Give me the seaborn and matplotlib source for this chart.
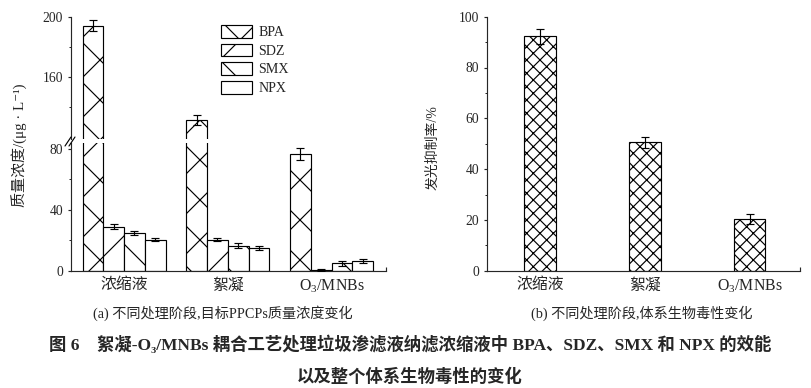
import numpy as np
import pandas as pd
import matplotlib
matplotlib.use('Agg')
import matplotlib.pyplot as plt
import seaborn as sns
from matplotlib.lines import Line2D

# stages of treatment (x categories)
stages = ['浓缩液', '絮凝', 'O$_3$/MNBs']
compounds = ['BPA', 'SDZ', 'SMX', 'NPX']

# mass concentration, ug/L
bpa = [194.0, 131.0, 76.7]
sdz = [29.0, 20.5, 0.3]
smx = [25.0, 16.3, 4.8]
npx = [20.5, 15.0, 6.5]
bpa_err = [3.5, 3.3, 3.8]
sdz_err = [1.5, 1.1, 0.7]
smx_err = [1.3, 1.6, 1.6]
npx_err = [0.9, 1.2, 1.4]

# luminescence inhibition, %
inhibition = [92.3, 50.6, 20.3]
inhibition_err = [3.0, 2.2, 2.0]

conc = {'BPA': bpa, 'SDZ': sdz, 'SMX': smx, 'NPX': npx}
errs = {'BPA': bpa_err, 'SDZ': sdz_err, 'SMX': smx_err, 'NPX': npx_err}
hatches = {'BPA': 'x', 'SDZ': '/', 'SMX': '\\', 'NPX': ''}

rows = [(s, c, conc[c][i]) for c in compounds for i, s in enumerate(stages)]
df = pd.DataFrame(rows, columns=['stage', 'compound', 'value'])

sns.set_style('ticks')
plt.rcParams['font.family'] = ['Liberation Serif', 'Noto Sans CJK SC', 'DejaVu Sans']
plt.rcParams['mathtext.fontset'] = 'custom'
plt.rcParams['mathtext.rm'] = 'Liberation Serif'
plt.rcParams['mathtext.it'] = 'Liberation Serif:italic'
plt.rcParams['mathtext.bf'] = 'Liberation Serif:bold'
plt.rcParams['hatch.linewidth'] = 0.7
plt.rcParams['axes.linewidth'] = 0.7

DPI = 120
W, H = 811, 388
fig = plt.figure(figsize=(W / DPI, H / DPI), dpi=DPI)


def fx(px):
    return px / W


def fy(py):
    return 1 - py / H


ax_hi = fig.add_axes([fx(71), fy(139), fx(386) - fx(71), fy(16.7) - fy(139)])
ax_lo = fig.add_axes([fx(71), fy(270.7), fx(386) - fx(71), fy(143) - fy(270.7)])
ax_r = fig.add_axes([fx(487), fy(270.7), fx(800) - fx(487), fy(16.7) - fy(270.7)])

# ---- (a) broken-axis grouped bars
for ax in (ax_hi, ax_lo):
    sns.barplot(data=df, x='stage', y='value', hue='compound', order=stages,
                hue_order=compounds, palette={c: 'white' for c in compounds},
                edgecolor='black', linewidth=0.7, width=0.8, errorbar=None,
                legend=False, ax=ax)
    for cont, c in zip(ax.containers, compounds):
        xs = []
        for p in cont:
            p.set_hatch(hatches[c])
            p.set_facecolor('white')
            xs.append(p.get_x() + p.get_width() / 2)
        ax.errorbar(xs, conc[c], yerr=errs[c], fmt='none', ecolor='black',
                    elinewidth=0.7, capsize=2.4, capthick=0.7, zorder=4)
    ax.set_xlim(-0.511, 2.525)
    ax.set_xlabel('')
    ax.set_ylabel('')
    ax.spines['top'].set_visible(False)
    ax.spines['right'].set_visible(False)
    ax.tick_params(axis='y', which='major', direction='out', length=1.8,
                   width=0.7, labelsize=8.2, pad=3)
    ax.tick_params(axis='y', which='minor', direction='out', length=1.2, width=0.6)

ax_hi.set_ylim(118.5, 200)
ax_hi.set_yticks([160, 200])
ax_hi.set_yticks([140, 180], minor=True)
ax_hi.spines['bottom'].set_visible(False)
ax_hi.tick_params(axis='x', bottom=False, labelbottom=False)

ax_lo.set_ylim(0, 84)
ax_lo.set_yticks([0, 40, 80])
ax_lo.set_yticks([20, 60], minor=True)
ax_lo.tick_params(axis='x', which='major', length=0, labelsize=9.5, pad=4)
ax_lo.set_xticks([2.525], minor=True)
ax_lo.tick_params(axis='x', which='minor', direction='in', length=2.5, width=0.7)

# break marks on the y axis
for dx in (0, 4):
    fig.add_artist(Line2D([fx(65 + dx), fx(71 + dx)], [fy(146), fy(137)],
                          color='black', lw=0.7))

ax_hi.legend(handles=list(ax_hi.containers), labels=compounds, loc='upper left',
             bbox_to_anchor=(fx(221), fy(25)), bbox_transform=fig.transFigure,
             frameon=False, fontsize=8.4, handlelength=2.2, handleheight=1.0,
             labelspacing=0.33, handletextpad=0.45, borderpad=0, borderaxespad=0)

# ---- (b) toxicity bars
sns.barplot(x=stages, y=inhibition, color='white', edgecolor='black',
            linewidth=0.7, width=0.3, errorbar=None, ax=ax_r)
xs = []
for p in ax_r.patches:
    p.set_hatch('xxx')
    p.set_facecolor('white')
    xs.append(p.get_x() + p.get_width() / 2)
ax_r.errorbar(xs, inhibition, yerr=inhibition_err, fmt='none', ecolor='black',
              elinewidth=0.7, capsize=2.4, capthick=0.7, zorder=4)
ax_r.set_xlim(-0.506, 2.48)
ax_r.set_ylim(0, 100)
ax_r.set_yticks(np.arange(0, 101, 20))
ax_r.set_yticks(np.arange(10, 100, 20), minor=True)
ax_r.spines['top'].set_visible(False)
ax_r.spines['right'].set_visible(False)
ax_r.tick_params(axis='y', which='major', direction='out', length=1.8,
                 width=0.7, labelsize=8.2, pad=3)
ax_r.tick_params(axis='y', which='minor', direction='out', length=1.2, width=0.6)
ax_r.tick_params(axis='x', which='major', length=0, labelsize=9.5, pad=4)
ax_r.set_xticks([2.48], minor=True)
ax_r.tick_params(axis='x', which='minor', direction='in', length=2.5, width=0.7)
ax_r.set_xlabel('')
ax_r.set_ylabel('')

# ---- labels and captions
fig.text(fx(20), fy(145), '质量浓度/(μg · L⁻¹)', rotation=90, ha='center',
         va='center', fontsize=9)
fig.text(fx(433), fy(148), '发光抑制率/%', rotation=90, ha='center',
         va='center', fontsize=8.3)
fig.text(fx(223), fy(313), '(a) 不同处理阶段,目标PPCPs质量浓度变化', ha='center',
         va='center', fontsize=8.5)
fig.text(fx(642), fy(313), '(b) 不同处理阶段,体系生物毒性变化', ha='center',
         va='center', fontsize=8.5)
fig.text(fx(410), fy(345),
         '图 6    絮凝-O₃/MNBs 耦合工艺处理垃圾渗滤液纳滤浓缩液中 BPA、SDZ、SMX 和 NPX 的效能',
         ha='center', va='center', fontsize=10.4, fontweight='bold')
fig.text(fx(410), fy(377), '以及整个体系生物毒性的变化', ha='center', va='center',
         fontsize=10.4, fontweight='bold')

fig.savefig('out.png', dpi=DPI)
